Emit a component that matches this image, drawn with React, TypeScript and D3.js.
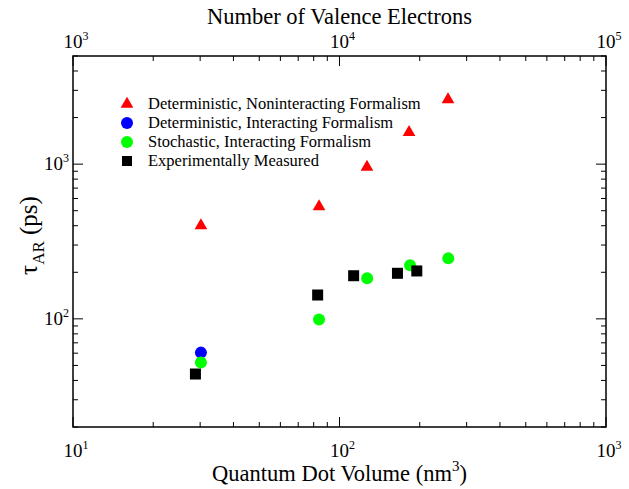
import React, { useEffect, useRef } from "react";
import * as d3 from "d3";

// series (x = quantum dot volume in nm^3, y = tau_AR in ps)
const detNonintX = [30.2, 83.8, 126.8, 182.4, 255.4];
const detNonintY = [401, 531, 957, 1603, 2612];
const detIntX = [30.2];
const detIntY = [60.5];
const stochX = [30.2, 83.8, 127, 184, 256];
const stochY = [52.3, 99, 183, 222, 246];
const expX = [28.8, 82.8, 113, 165, 195];
const expY = [44, 142.6, 190, 197, 204];

const legendLabels = [
  "Deterministic, Noninteracting Formalism",
  "Deterministic, Interacting Formalism",
  "Stochastic, Interacting Formalism",
  "Experimentally Measured",
];

export default function App() {
  const ref = useRef<SVGSVGElement>(null);

  useEffect(() => {
    document.body.style.margin = "0";
    const width = 629;
    const height = 489;
    const margin = { top: 56, left: 73, bottom: 62, right: 23 };
    const iwidth = width - margin.left - margin.right;
    const iheight = height - margin.top - margin.bottom;

    const svg = d3.select(ref.current);
    svg.selectAll("*").remove();

    const g = svg
      .append("g")
      .attr("transform", `translate(${margin.left},${margin.top})`);

    const x = d3.scaleLog().domain([10, 1000]).range([0, iwidth]);
    const xTop = d3.scaleLog().domain([1000, 100000]).range([0, iwidth]);
    const y = d3.scaleLog().domain([20, 5000]).range([iheight, 0]);

    const isMajor = (v: number) => Math.abs(Math.log10(v) - Math.round(Math.log10(v))) < 1e-9;
    const major = 10;
    const minor = 5;

    // frame
    g.append("rect")
      .attr("width", iwidth)
      .attr("height", iheight)
      .attr("fill", "none")
      .attr("stroke", "black")
      .attr("stroke-width", 1.5);

    // bottom ticks
    g.selectAll(".xb")
      .data(x.ticks())
      .enter()
      .append("line")
      .attr("x1", d => x(d))
      .attr("x2", d => x(d))
      .attr("y1", iheight)
      .attr("y2", d => iheight - (isMajor(d) ? major : minor))
      .attr("stroke", "black");

    // top ticks
    g.selectAll(".xt")
      .data(xTop.ticks())
      .enter()
      .append("line")
      .attr("x1", d => xTop(d))
      .attr("x2", d => xTop(d))
      .attr("y1", 0)
      .attr("y2", d => (isMajor(d) ? major : minor))
      .attr("stroke", "black");

    // left and right ticks
    [0, iwidth].forEach(side => {
      const dir = side === 0 ? 1 : -1;
      g.selectAll(".y" + side)
        .data(y.ticks())
        .enter()
        .append("line")
        .attr("x1", side)
        .attr("x2", d => side + dir * (isMajor(d) ? major : minor))
        .attr("y1", d => y(d))
        .attr("y2", d => y(d))
        .attr("stroke", "black");
    });

    const powLabel = (sel: any, exp: number) => {
      sel.append("tspan").text("10");
      sel.append("tspan").attr("dy", -8).attr("font-size", 12).text(String(exp));
    };

    // bottom tick labels
    [10, 100, 1000].forEach(v => {
      const t = g.append("text")
        .attr("x", x(v) + 3)
        .attr("y", iheight + 30)
        .attr("text-anchor", "middle")
        .attr("font-size", 19);
      powLabel(t, Math.round(Math.log10(v)));
    });

    // top tick labels
    [1000, 10000, 100000].forEach(v => {
      const t = g.append("text")
        .attr("x", xTop(v) + 3)
        .attr("y", -8)
        .attr("text-anchor", "middle")
        .attr("font-size", 19);
      powLabel(t, Math.round(Math.log10(v)));
    });

    // left tick labels
    [100, 1000].forEach(v => {
      const t = g.append("text")
        .attr("x", -4)
        .attr("y", y(v) + 6)
        .attr("text-anchor", "end")
        .attr("font-size", 19);
      powLabel(t, Math.round(Math.log10(v)));
    });

    // axis titles
    svg.append("text")
      .attr("x", margin.left + x(100))
      .attr("y", 24)
      .attr("text-anchor", "middle")
      .attr("font-size", 22.5)
      .text("Number of Valence Electrons");

    const bt = svg.append("text")
      .attr("x", margin.left + x(100))
      .attr("y", 481)
      .attr("text-anchor", "middle")
      .attr("font-size", 22.5);
    bt.append("tspan").text("Quantum Dot Volume (nm");
    bt.append("tspan").attr("dy", -10).attr("font-size", 15).text("3");
    bt.append("tspan").attr("dy", 10).text(")");

    const yt = svg.append("text")
      .attr("transform", `translate(37,${margin.top + iheight / 2 - 6}) rotate(-90)`)
      .attr("text-anchor", "middle")
      .attr("font-size", 25);
    yt.append("tspan").text("τ");
    yt.append("tspan").attr("dy", 7).attr("font-size", 17).text("AR");
    yt.append("tspan").attr("dy", -7).text(" (ps)");

    const pts = (xs: number[], ys: number[]) => xs.map((v, i) => [v, ys[i]]);

    const tri = d3.symbol().type(d3.symbolTriangle).size(70);
    g.selectAll(".tri")
      .data(pts(detNonintX, detNonintY))
      .enter()
      .append("path")
      .attr("d", tri)
      .attr("transform", d => `translate(${x(d[0])},${y(d[1])})`)
      .attr("fill", "#ff0000");

    g.selectAll(".blue")
      .data(pts(detIntX, detIntY))
      .enter()
      .append("circle")
      .attr("cx", d => x(d[0]))
      .attr("cy", d => y(d[1]))
      .attr("r", 6)
      .attr("fill", "#0000ff");

    g.selectAll(".green")
      .data(pts(stochX, stochY))
      .enter()
      .append("circle")
      .attr("cx", d => x(d[0]))
      .attr("cy", d => y(d[1]))
      .attr("r", 6)
      .attr("fill", "#00ff00");

    g.selectAll(".sq")
      .data(pts(expX, expY))
      .enter()
      .append("rect")
      .attr("x", d => x(d[0]) - 5.5)
      .attr("y", d => y(d[1]) - 5.5)
      .attr("width", 11)
      .attr("height", 11)
      .attr("fill", "black");

    // legend
    const lg = svg.append("g").attr("transform", "translate(127,104)");
    const step = 19;
    lg.append("path").attr("d", tri).attr("fill", "#ff0000");
    lg.append("circle").attr("cy", step).attr("r", 6).attr("fill", "#0000ff");
    lg.append("circle").attr("cy", step * 2).attr("r", 6).attr("fill", "#00ff00");
    lg.append("rect").attr("x", -5).attr("y", step * 3 - 5).attr("width", 10).attr("height", 10).attr("fill", "black");
    legendLabels.forEach((l, i) => {
      lg.append("text")
        .attr("x", 21)
        .attr("y", i * step + 5)
        .attr("font-size", 16.5)
        .text(l);
    });
  }, []);

  return (
    <svg
      ref={ref}
      width={629}
      height={489}
      style={{ display: "block", background: "white", fontFamily: "Liberation Serif, Times New Roman, Times, serif" }}
    />
  );
}
